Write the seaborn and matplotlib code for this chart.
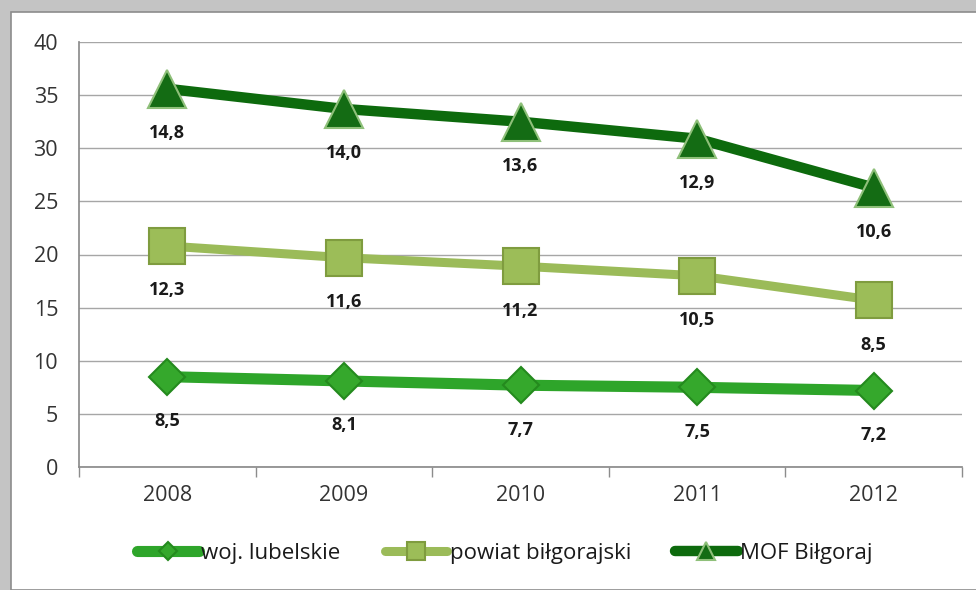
import numpy as np
import pandas as pd
import matplotlib.pyplot as plt
from matplotlib.patches import Rectangle
import seaborn as sns

years = ["2008", "2009", "2010", "2011", "2012"]
woj_lubelskie = [8.5, 8.1, 7.7, 7.5, 7.2]
powiat_bilgorajski = [12.3, 11.6, 11.2, 10.5, 8.5]
mof_bilgoraj = [14.8, 14.0, 13.6, 12.9, 10.6]

series_names = ["woj. lubelskie", "powiat biłgorajski", "MOF Biłgoraj"]
series_values = [woj_lubelskie, powiat_bilgorajski, mof_bilgoraj]

sns.set_theme(style="white")
plt.rcParams["font.family"] = ["Open Sans", "DejaVu Sans"]

# stacked line chart: each line sits on top of the previous one
stacked = np.cumsum(np.array(series_values), axis=0)

styles = [
    dict(color="#2ea52a", lw=8, marker="D", ms=18, mfc="#35a82c", mec="#248a1e"),
    dict(color="#9bbb59", lw=6.5, marker="s", ms=26, mfc="#9cbd58", mec="#7f9c3f"),
    dict(color="#0d6a0d", lw=7.5, marker="^", ms=27, mfc="#146c14", mec="#8fc07a"),
]

fig = plt.figure(figsize=(9.76, 5.9), dpi=100, facecolor="#c4c4c4")
fig.patches.append(Rectangle((11 / 976, 0), 1, 1 - 12 / 590, transform=fig.transFigure,
                             facecolor="white", edgecolor="#8c8c8c", lw=1.2, zorder=-5))
ax = fig.add_axes([79 / 976, 1 - 467 / 590, 883 / 976, 425 / 590])
ax.set_facecolor("none")

handles = []
for name, vals, top, st in zip(series_names, series_values, stacked, styles):
    df = pd.DataFrame({"year": years, "value": top})
    sns.lineplot(data=df, x="year", y="value", ax=ax, color=st["color"], linewidth=st["lw"],
                 marker=st["marker"], markersize=st["ms"], markerfacecolor=st["mfc"],
                 markeredgecolor=st["mec"], markeredgewidth=1.5, zorder=3)
    handles.append(ax.lines[-1])
    for i, (v, y) in enumerate(zip(vals, top)):
        ax.annotate(f"{v:.1f}".replace(".", ","), (i, y), xytext=(0, -32),
                    textcoords="offset points", ha="center", va="center",
                    fontsize=13, fontweight="bold", color="#1a1a1a", zorder=4)

ax.set_xlim(-0.5, 4.5)
ax.set_ylim(0, 40)
ax.set_yticks(range(0, 41, 5))
ax.set_xticks(range(len(years)))
ax.set_xticklabels(years)
ax.set_xticks(np.arange(-0.5, 5, 1), minor=True)
ax.set_xlabel("")
ax.set_ylabel("")
ax.grid(axis="y", color="#a6a6a6", lw=1)
ax.set_axisbelow(True)
for s in ["top", "right"]:
    ax.spines[s].set_visible(False)
for s in ["left", "bottom"]:
    ax.spines[s].set_color("#8c8c8c")
ax.tick_params(axis="y", length=7, color="#8c8c8c", labelsize=15.5, labelcolor="#333333", pad=8)
ax.tick_params(axis="x", which="major", length=0, labelsize=15.5, labelcolor="#333333", pad=13)
ax.tick_params(axis="x", which="minor", length=7, color="#8c8c8c", direction="out", bottom=True)

leg = fig.legend(handles, series_names, loc="center", bbox_to_anchor=(0.517, 1 - 553 / 590),
                 ncol=3, frameon=False, fontsize=16, handlelength=2.8, handletextpad=0.1,
                 columnspacing=2.0, markerscale=0.5)
for t in leg.get_texts():
    t.set_color("#1a1a1a")

fig.savefig("out.png", dpi=100, facecolor=fig.get_facecolor())
